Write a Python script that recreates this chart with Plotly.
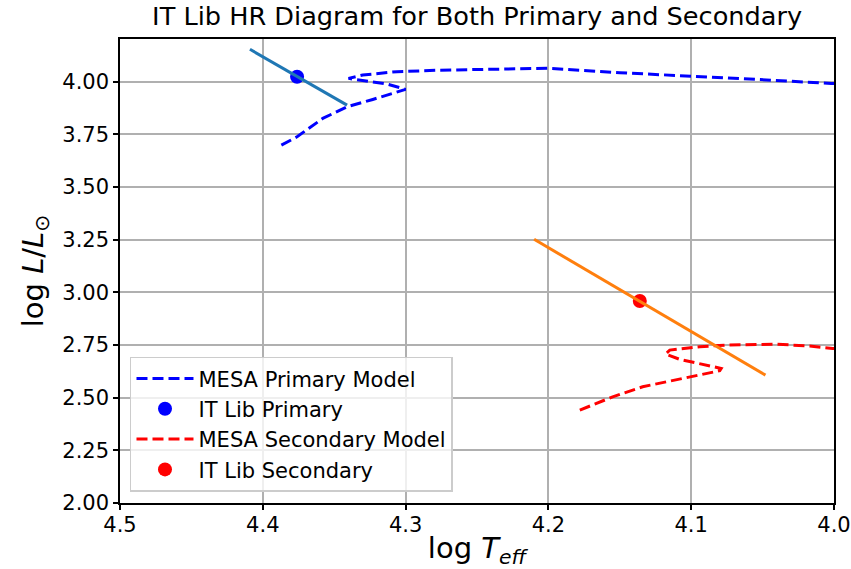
import plotly.graph_objects as go

# MESA primary track
prim_teff = [4.387, 4.376, 4.358, 4.341, 4.323, 4.300, 4.313, 4.330, 4.340, 4.330, 4.306, 4.276, 4.229, 4.200, 4.150, 4.100, 4.054, 4.002, 3.99]
prim_lum = [3.699, 3.739, 3.826, 3.881, 3.916, 3.964, 3.989, 4.005, 4.016, 4.032, 4.048, 4.055, 4.060, 4.064, 4.043, 4.027, 4.011, 3.992, 3.988]

# MESA secondary track
sec_teff = [4.178, 4.169, 4.155, 4.134, 4.110, 4.080, 4.079, 4.089, 4.108, 4.118, 4.115, 4.094, 4.075, 4.040, 4.017, 4.001, 3.99]
sec_lum = [2.441, 2.465, 2.504, 2.552, 2.587, 2.628, 2.639, 2.655, 2.682, 2.707, 2.726, 2.742, 2.750, 2.754, 2.745, 2.734, 2.73]

# IT Lib points
it_prim_teff = [4.376]
it_prim_lum = [4.024]
it_sec_teff = [4.136]
it_sec_lum = [2.959]

# Uncertainty lines
prim_line_teff = [4.409, 4.341]
prim_line_lum = [4.154, 3.889]
sec_line_teff = [4.210, 4.048]
sec_line_lum = [3.252, 2.607]

x_ticks = [4.5, 4.4, 4.3, 4.2, 4.1, 4.0]
y_ticks = [2.00, 2.25, 2.50, 2.75, 3.00, 3.25, 3.50, 3.75, 4.00]

FONT = "DejaVu Sans"
fig = go.Figure()
fig.add_trace(go.Scatter(x=prim_teff, y=prim_lum, mode="lines", name="MESA Primary Model",
                         line=dict(color="blue", width=3, dash="11px,5px")))
fig.add_trace(go.Scatter(x=it_prim_teff, y=it_prim_lum, mode="markers", name="IT Lib Primary",
                         marker=dict(color="blue", size=14)))
fig.add_trace(go.Scatter(x=sec_teff, y=sec_lum, mode="lines", name="MESA Secondary Model",
                         line=dict(color="red", width=3, dash="11px,5px")))
fig.add_trace(go.Scatter(x=it_sec_teff, y=it_sec_lum, mode="markers", name="IT Lib Secondary",
                         marker=dict(color="red", size=14)))
fig.add_trace(go.Scatter(x=prim_line_teff, y=prim_line_lum, mode="lines", showlegend=False,
                         line=dict(color="#1f77b4", width=3)))
fig.add_trace(go.Scatter(x=sec_line_teff, y=sec_line_lum, mode="lines", showlegend=False,
                         line=dict(color="#ff7f0e", width=3)))

fig.update_layout(
    width=851, height=569,
    margin=dict(l=120, r=17, t=39, b=66),
    paper_bgcolor="white", plot_bgcolor="white",
    font=dict(family=FONT, color="black", size=21),
    title=dict(text="IT Lib HR Diagram for Both Primary and Secondary", x=0.5607, xanchor="center",
               y=0.987, yanchor="top", font=dict(size=25.6, family=FONT)),
    legend=dict(x=0.014, y=0.024, xanchor="left", yanchor="bottom",
                bgcolor="rgba(255,255,255,0.8)", bordercolor="#cccccc", borderwidth=1.5,
                font=dict(size=21, family=FONT), itemwidth=57, tracegroupgap=0),
    showlegend=True,
)
fig.update_xaxes(range=[4.5, 4.0], tickvals=x_ticks, ticktext=[f"{v:.1f}" for v in x_ticks],
                 automargin=False,
                 showgrid=True, gridcolor="#b0b0b0", gridwidth=1.5,
                 showline=True, linecolor="black", linewidth=1.5, mirror=True,
                 ticks="outside", ticklen=5, tickwidth=1.5, tickcolor="black",
                 ticklabelstandoff=-3,
                 tickfont=dict(size=21, family=FONT), zeroline=False,
                 title=dict(text="log <i>T</i><sub><i>eff</i></sub>", font=dict(size=29, family=FONT), standoff=6))
fig.update_yaxes(range=[2.0, 4.203], tickvals=y_ticks, ticktext=[f"{v:.2f}" for v in y_ticks],
                 automargin=False,
                 showgrid=True, gridcolor="#b0b0b0", gridwidth=1.5,
                 showline=True, linecolor="black", linewidth=1.5, mirror=True,
                 ticks="outside", ticklen=5, tickwidth=1.5, tickcolor="black",
                 tickfont=dict(size=21, family=FONT), zeroline=False,
                 title=dict(text="log <i>L</i>/<i>L</i><sub>⊙</sub>", font=dict(size=29, family=FONT), standoff=10))

fig.write_html("out.html")
